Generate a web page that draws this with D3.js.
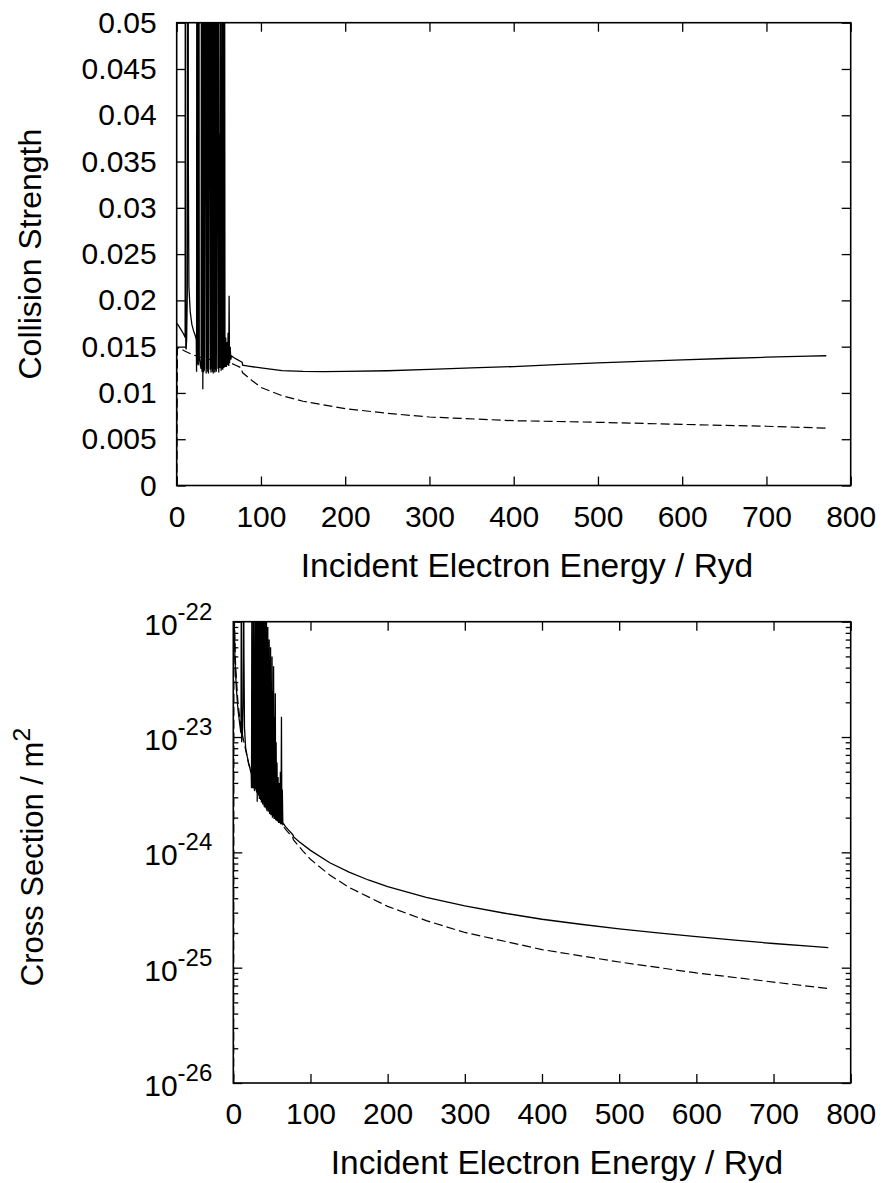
<!DOCTYPE html>
<html><head><meta charset="utf-8">
<script src="https://cdn.jsdelivr.net/npm/d3@7"></script>
<style>
body{margin:0;background:#fff}
svg{display:block}
text{font-family:"Liberation Sans",Arial,Helvetica,sans-serif;fill:#000}
.tick text{font-size:30px}
</style></head><body>
<svg id="c" width="882" height="1183"></svg>
<script>
// ---------- DATA ----------
const energyTicks = [0,100,200,300,400,500,600,700,800];
const energyTickLabels = ["0","100","200","300","400","500","600","700","800"];
const csTicks = [0,0.005,0.01,0.015,0.02,0.025,0.03,0.035,0.04,0.045,0.05];
const csTickLabels = ["0","0.005","0.01","0.015","0.02","0.025","0.03","0.035","0.04","0.045","0.05"];
const xsMajor = [1e-26,1e-25,1e-24,1e-23,1e-22];
const xsMajorExp = ["-26","-25","-24","-23","-22"];

// collision strength, solid (with resonances) [Ryd, value]
const csSolid = [[0.2,0.0175],[2,0.0173],[4,0.0170],[6,0.0167],[8,0.0164],[9.6,0.0161],[10.0,0.0160],[10.4,0.1200],[10.8,0.0150],[11.2,0.0147],[11.8,0.0158],[12.6,0.0210],[13.0,0.0400],[13.4,0.1500],[13.8,0.0350],[14.5,0.0215],[16,0.0188],[18,0.0174],[20,0.0167],[22,0.0162],[23.2,0.0158],[23.6,0.0123],[24.1,0.1200],[24.7,0.0133],[25.6,0.0130],[26.2,0.1000],[26.8,0.0138],[28.0,0.0130],
[29.0,0.0126],[29.5,0.0900],[30.0,0.0123],[30.6,0.0800],[31.0,0.0104],[31.5,0.0900],[31.9,0.0122],[32.4,0.0750],[32.9,0.0124],
[34.6,0.0850],[35.0,0.0121],[35.5,0.0700],[35.9,0.0126],[36.4,0.0900],[36.8,0.0123],[37.3,0.0800],[37.7,0.0121],
[39.4,0.0900],[39.8,0.0125],[40.3,0.0700],[40.7,0.0122],[41.2,0.0850],[41.6,0.0126],[42.1,0.0900],[42.5,0.0123],[43.0,0.0750],[43.4,0.0121],[43.9,0.0900],[44.3,0.0126],[44.8,0.0700],[45.2,0.0122],[45.7,0.0850],[46.1,0.0125],[46.6,0.0900],[47.0,0.0123],
[48.6,0.0800],[49.0,0.0126],[49.5,0.0900],[49.9,0.0122],[50.6,0.0380],[51.1,0.0127],[52.3,0.0900],[52.7,0.0124],[53.4,0.0305],[53.9,0.0126],[54.3,0.0800],[54.7,0.0125],[55.6,0.0900],[56.0,0.0127],[56.8,0.0700],[57.3,0.0128],[58.2,0.0160],[58.9,0.0128],[59.6,0.0155],[60.3,0.0130],[61.0,0.0165],[61.8,0.0129],[62.2,0.0205],[62.7,0.0132],[63.5,0.0150],[64.2,0.0136],
[65,0.0140],[68,0.0138],[72,0.0136],[76,0.0134],[77.8,0.0133],[78.2,0.0130],[85,0.0129],[100,0.0127],[125,0.0124],[150,0.01232],[175,0.0123],[200,0.01232],[250,0.0124],[300,0.01255],[350,0.0127],[400,0.01285],[450,0.01305],[500,0.01325],[550,0.01342],[600,0.01358],[650,0.01372],[700,0.01386],[750,0.01397],[771,0.01402]];

// collision strength, dashed (background)
const csDashed = [[0.3,0],[0.8,0.0148],[3,0.0149],[6,0.0147],[10,0.0145],[20,0.0141],[30,0.0138],[40,0.0136],[50,0.0135],[60,0.0134],[70,0.0130],[77,0.0127],[78,0.0122],[90,0.0113],[100,0.0106],[125,0.0097],[150,0.0091],[200,0.0083],[250,0.0078],[300,0.0074],[400,0.0070],[500,0.00683],[600,0.0066],[700,0.0064],[771,0.0062]];

// cross section / m^2, solid
const xsSolid = [[0.5,2.2e-22],[1,1.2e-22],[2.2,4.6e-23],[4,2.6e-23],[6,1.75e-23],[8,1.35e-23],[9.6,1.12e-23],[10.0,1.08e-23],[10.4,3e-22],[10.8,9.0e-24],[11.8,1.05e-23],[12.6,2.0e-23],[13.0,6e-23],[13.4,3e-22],[13.8,5e-23],[14.5,1.2e-23],[16,8.0e-24],[18,6.8e-24],[20,5.9e-24],[22,5.2e-24],[23.2,4.8e-24],[23.6,3.6e-24],[24.1,3e-22],[24.7,3.8e-24],[25.6,3.6e-24],[26.2,3e-22],[26.8,3.7e-24],[27.6,3.4e-24],
[28.4,3e-22],[29.0,3.5e-24],[29.5,3e-22],[30.1,3.3e-24],[30.6,3e-22],[31.0,2.75e-24],[31.5,3e-22],[31.9,3.2e-24],[32.4,3e-22],[32.9,3.1e-24],[33.3,3e-22],[33.8,2.9e-24],[34.2,3e-22],[34.6,3.0e-24],[35.0,3e-22],[35.5,2.85e-24],[35.9,3e-22],[36.4,2.7e-24],[36.8,3e-22],[37.2,2.75e-24],[37.6,3e-22],[38.1,2.6e-24],[38.5,3e-22],[39.0,2.7e-24],[39.4,3e-22],[39.9,2.5e-24],[40.3,3e-22],[40.8,2.45e-24],[41.2,3e-22],[41.6,2.5e-24],[42.0,3e-22],[42.5,2.4e-24],[42.9,3e-22],[43.4,2.3e-24],[43.8,6e-23],[44.3,2.4e-24],[44.7,9e-23],[45.2,2.25e-24],[45.6,5e-23],[46.1,2.3e-24],[46.5,7e-23],[47.0,2.15e-24],[47.4,4e-23],[47.9,2.2e-24],[48.3,6e-23],[48.8,2.1e-24],[49.3,3e-23],[49.8,2.1e-24],[50.2,5e-23],[50.7,2.0e-24],[51.2,2.5e-23],[51.7,2.05e-24],[52.2,4.1e-23],[52.8,1.95e-24],[53.3,1.5e-23],[53.9,1.95e-24],[54.4,2.4e-23],[55.0,1.9e-24],[55.5,9e-24],[56.1,1.88e-24],[56.6,6e-24],[57.3,1.85e-24],[58.0,4.5e-24],[58.8,1.8e-24],[59.5,4e-24],[60.3,1.8e-24],[61.0,5e-24],[61.8,1.75e-24],[62.4,1.5e-23],[62.9,1.75e-24],[63.5,3.5e-24],[64.2,1.75e-24],
[65,1.77e-24],[68,1.66e-24],[72,1.55e-24],[76,1.45e-24],[77.8,1.40e-24],[78.2,1.36e-24],[85,1.244e-24],[100,1.04e-24],[125,8.13e-25],[150,6.73e-25],[175,5.76e-25],[200,5.05e-25],[250,4.07e-25],[300,3.43e-25],[350,2.98e-25],[400,2.63e-25],[450,2.38e-25],[500,2.17e-25],[550,2.0e-25],[600,1.86e-25],[650,1.73e-25],[700,1.62e-25],[750,1.53e-25],[771,1.49e-25]];

// cross section / m^2, dashed
const xsDashed = [[0.3,1e-28],[0.8,1.5e-22],[3,4.1e-23],[6,2.0e-23],[10,1.19e-23],[20,5.8e-24],[30,3.77e-24],[40,2.79e-24],[50,2.21e-24],[60,1.83e-24],[70,1.52e-24],[77,1.35e-24],[78,1.28e-24],[90,1.03e-24],[100,8.7e-25],[125,6.36e-25],[150,4.97e-25],[200,3.40e-25],[250,2.56e-25],[300,2.02e-25],[400,1.435e-25],[500,1.12e-25],[600,9.0e-26],[700,7.5e-26],[771,6.6e-26]];

// ---------- DRAW ----------
const svg = d3.select("#c");
const P1 = {l:176.7, r:850.7, t:22.7, b:485.5};
const P2 = {l:233.3, r:850.7, t:621.7, b:1083};
const MAJ = 9, MIN = 5;

function frame(P, id){
  svg.append("clipPath").attr("id",id).append("rect")
    .attr("x",P.l).attr("y",P.t).attr("width",P.r-P.l).attr("height",P.b-P.t);
}
function cleanAxis(g){
  g.attr("font-size",null).attr("font-family",null);
  g.select(".domain").remove();
  g.selectAll(".tick line").attr("stroke","#000").attr("stroke-width",1.3);
}
function drawLines(x, y, solid, dashed, clipId){
  const line = d3.line().x(d=>x(d[0])).y(d=>y(d[1]));
  const g = svg.append("g").attr("clip-path",`url(#${clipId})`);
  g.append("path").datum(dashed).attr("d",line).attr("fill","none")
    .attr("stroke","#000").attr("stroke-width",1.2).attr("stroke-dasharray","9,4");
  g.append("path").datum(solid).attr("d",line).attr("fill","none")
    .attr("stroke","#000").attr("stroke-width",1.3);
}
function box(P){
  svg.append("rect").attr("x",P.l).attr("y",P.t).attr("width",P.r-P.l).attr("height",P.b-P.t)
    .attr("fill","none").attr("stroke","#000").attr("stroke-width",1.6);
}

// ---- Panel 1 ----
{
  const x = d3.scaleLinear().domain([0,800]).range([P1.l,P1.r]);
  const y = d3.scaleLinear().domain([0,0.05]).range([P1.b,P1.t]);
  frame(P1,"clip1");
  drawLines(x,y,csSolid,csDashed,"clip1");
  svg.append("g").attr("transform",`translate(0,${P1.b})`)
    .call(d3.axisBottom(x).tickValues(energyTicks).tickSize(-MAJ).tickPadding(20).tickFormat((d,i)=>energyTickLabels[i])).call(cleanAxis);
  svg.append("g").attr("transform",`translate(0,${P1.t})`)
    .call(d3.axisTop(x).tickValues(energyTicks).tickSize(-MAJ).tickFormat("")).call(cleanAxis);
  svg.append("g").attr("transform",`translate(${P1.l},0)`)
    .call(d3.axisLeft(y).tickValues(csTicks).tickSize(-MAJ).tickPadding(20).tickFormat((d,i)=>csTickLabels[i])).call(cleanAxis);
  svg.append("g").attr("transform",`translate(${P1.r},0)`)
    .call(d3.axisRight(y).tickValues(csTicks).tickSize(-MAJ).tickFormat("")).call(cleanAxis);
  box(P1);
  svg.append("text").attr("x",527).attr("y",577).attr("text-anchor","middle")
    .attr("font-size",33.5).text("Incident Electron Energy / Ryd");
  svg.append("text").attr("transform",`translate(41,${(P1.t+P1.b)/2}) rotate(-90)`)
    .attr("text-anchor","middle").attr("font-size",32).text("Collision Strength");
}

// ---- Panel 2 ----
{
  const x = d3.scaleLinear().domain([0,800]).range([P2.l,P2.r]);
  const y = d3.scaleLog().domain([1e-26,1e-22]).range([P2.b,P2.t]);
  frame(P2,"clip2");
  drawLines(x,y,xsSolid,xsDashed,"clip2");
  const minor = y.ticks().filter(v=>!xsMajor.some(m=>Math.abs(v/m-1)<1e-6));
  svg.append("g").attr("transform",`translate(0,${P2.b})`)
    .call(d3.axisBottom(x).tickValues(energyTicks).tickSize(-MAJ).tickPadding(20).tickFormat((d,i)=>energyTickLabels[i])).call(cleanAxis);
  svg.append("g").attr("transform",`translate(0,${P2.t})`)
    .call(d3.axisTop(x).tickValues(energyTicks).tickSize(-MAJ).tickFormat("")).call(cleanAxis);
  const gl = svg.append("g").attr("transform",`translate(${P2.l},0)`)
    .call(d3.axisLeft(y).tickValues(xsMajor).tickSize(-MAJ).tickPadding(21).tickFormat("")).call(cleanAxis);
  gl.selectAll(".tick text").attr("dy","0.42em").each(function(d,i){
    const t = d3.select(this);
    t.append("tspan").text("10");
    t.append("tspan").attr("dy",-15).attr("font-size","0.8em").text(xsMajorExp[i]);
  });
  svg.append("g").attr("transform",`translate(${P2.l},0)`)
    .call(d3.axisLeft(y).tickValues(minor).tickSize(-MIN).tickFormat("")).call(cleanAxis);
  svg.append("g").attr("transform",`translate(${P2.r},0)`)
    .call(d3.axisRight(y).tickValues(xsMajor).tickSize(-MAJ).tickFormat("")).call(cleanAxis);
  svg.append("g").attr("transform",`translate(${P2.r},0)`)
    .call(d3.axisRight(y).tickValues(minor).tickSize(-MIN).tickFormat("")).call(cleanAxis);
  box(P2);
  svg.append("text").attr("x",557).attr("y",1174).attr("text-anchor","middle")
    .attr("font-size",33.5).text("Incident Electron Energy / Ryd");
  const yt = svg.append("text").attr("transform",`translate(43,857) rotate(-90)`)
    .attr("text-anchor","middle").attr("font-size",31);
  yt.append("tspan").text("Cross Section / m");
  yt.append("tspan").attr("dy",-13).attr("font-size","0.8em").text("2");
}
</script></body></html>
